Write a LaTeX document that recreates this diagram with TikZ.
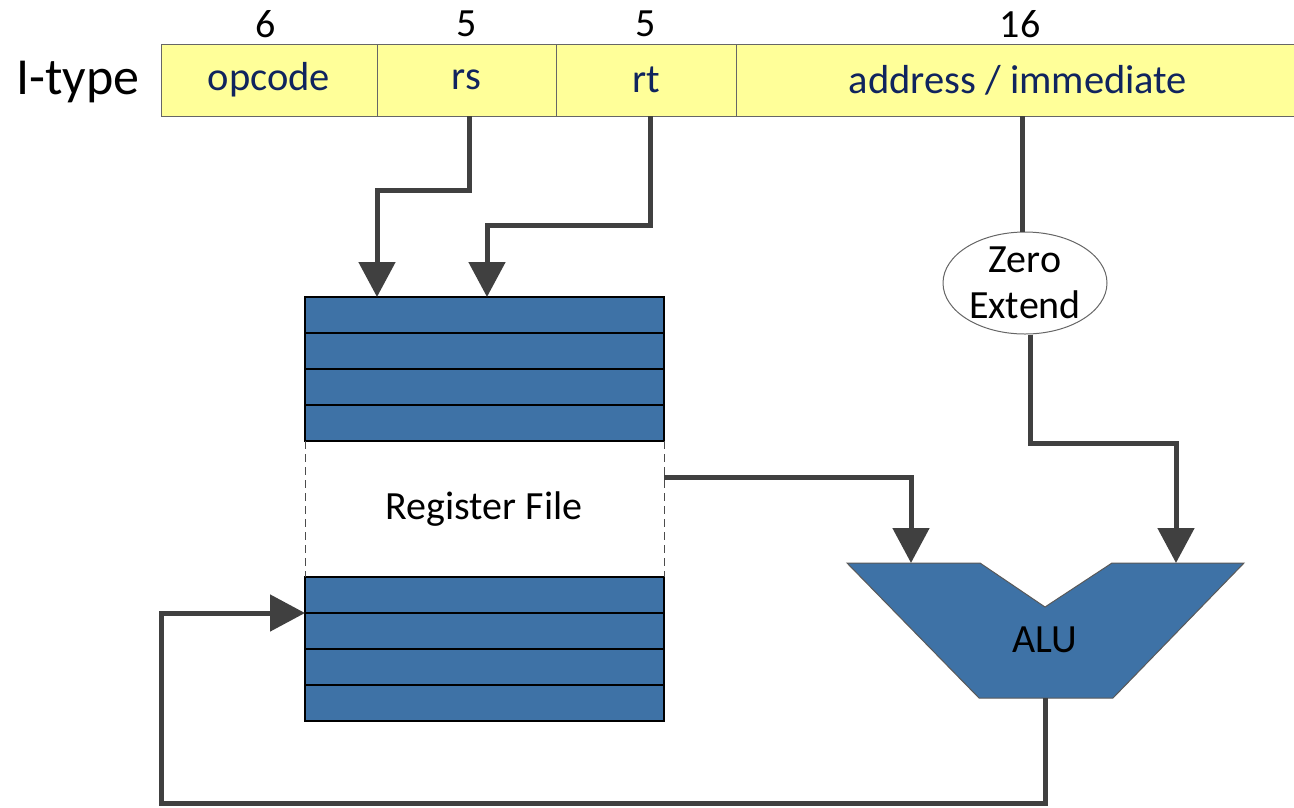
\documentclass[tikz,border=0pt]{standalone}
\usepackage{fontspec}
\setmainfont{Carlito}
\usetikzlibrary{arrows.meta,shapes.geometric}

\definecolor{fieldyellow}{RGB}{255,255,153}
\definecolor{regblue}{RGB}{62,114,166}
\definecolor{wiregray}{RGB}{64,64,64}
\definecolor{fieldtext}{RGB}{16,36,94}

\begin{document}
\begin{tikzpicture}
    [x=1pt, y=-1pt,
    field/.style={draw=gray!80!black, fill=fieldyellow, anchor=north west, minimum height=72pt,
        inner sep=0pt, outer sep=0pt, text=fieldtext, font=\fontsize{40.5}{46}\selectfont},
    bits/.style={font=\fontsize{40}{46}\selectfont},
    regrow/.style={draw=black, line width=1.2pt, fill=regblue, anchor=north west,
        minimum width=359pt, minimum height=36pt, inner sep=0pt, outer sep=0pt},
    wire/.style={draw=wiregray, line width=5pt},
    wire arrow/.style={wire, -{Triangle[length=35pt,width=36pt]}},
    label/.style={font=\fontsize{40}{46}\selectfont}]

\useasboundingbox (0,0) rectangle (1294,807);

%instruction format
\node[font=\fontsize{52}{58}\selectfont] (itype) at (78,82) {I-type};
\node[field, minimum width=216pt] (opcode) at (161,44) {opcode};
\node[field, minimum width=179pt] (rs) at (opcode.north east) {rs};
\node[field, minimum width=180pt] (rt) at (rs.north east) {rt};
\node[field, minimum width=564pt] (addr) at (rt.north east) {address / immediate};

\node[bits] (nop) at (266,24) {6};
\node[bits] (nrs) at (467,24) {5};
\node[bits] (nrt) at (646,24) {5};
\node[bits] (nad) at (1020,24) {16};

%register file
\foreach \i/\yy in {1/297,2/333,3/369,4/405,5/577,6/613,7/649,8/685}
    \node[regrow] (r\i) at (305,\yy) {};
\draw[dash pattern=on 8pt off 5pt, line width=1pt, gray!60!black] (r4.south west) -- (r5.north west);
\draw[dash pattern=on 8pt off 5pt, line width=1pt, gray!60!black] (r4.south east) -- (r5.north east);
\node[label] (rfile) at (484,509) {Register File};

\coordinate (rsin) at (377,297);
\coordinate (rtin) at (487,297);
\coordinate (rfout) at (664,477);

%zero extend
\node[ellipse, draw=gray!80!black, line width=1pt, fill=white, minimum width=164pt, minimum height=102pt,
    inner sep=0pt, align=center, label] (zext) at (1025,283) {Zero\\Extend};

%ALU
\filldraw[fill=regblue, draw=gray!70!black, line width=1pt]
    (847,563) -- (980,563) -- (1045,607) -- (1112,563) -- (1244,563) -- (1113,698) -- (979,698) -- cycle;
\node[label] (alu) at (1045,640) {ALU};
\coordinate (aluA) at (911,563);
\coordinate (aluB) at (1176,563);
\coordinate (aluout) at (1045,698);

%wires
\draw[wire arrow] ([xshift=3pt]rs.south) -- ++(0,74) -| (rsin);
\draw[wire arrow] ([xshift=4pt]rt.south) -- ++(0,109) -| (rtin);
\draw[wire] ([xshift=4pt]addr.south) -- ([xshift=4pt]addr.south |- zext.north);
\draw[wire arrow] ([xshift=5pt]zext.south) -- ++(0,109) -| (aluB);
\draw[wire arrow] (rfout) -| (aluA);
\draw[wire arrow] (aluout) -- ++(0,105) -| ([xshift=-144pt]r5.south west) -- (r5.south west);

\end{tikzpicture}
\end{document}
